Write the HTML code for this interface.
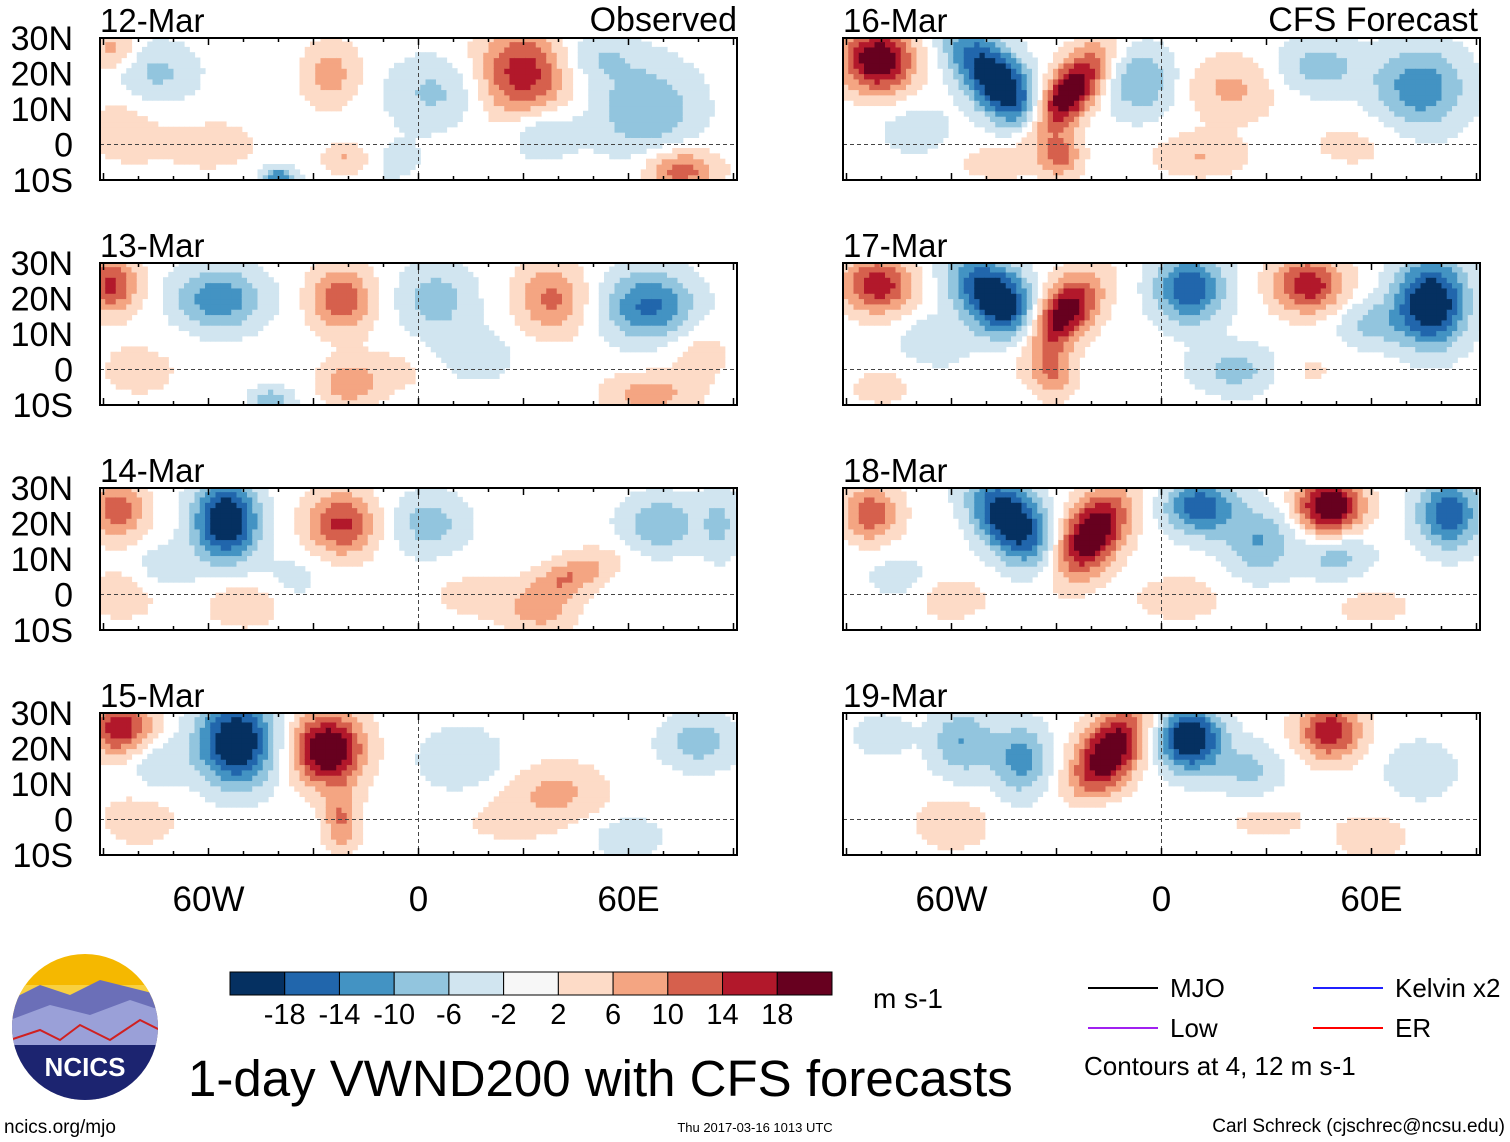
<!DOCTYPE html>
<html><head><meta charset="utf-8">
<style>
body{margin:0;background:#fff;width:1510px;height:1142px;overflow:hidden;font-family:"Liberation Sans",sans-serif;}
svg{position:absolute;left:0;top:0}
</style></head>
<body>
<svg id="chart" width="1510" height="1142"></svg>
<script>
// ---- data ----
const panelTitles = ["12-Mar","13-Mar","14-Mar","15-Mar","16-Mar","17-Mar","18-Mar","19-Mar"];
const latTicks = ["30N","20N","10N","0","10S"];
const lonTickLabels = ["60W","0","60E"];
const lonTickValues = [-60,0,60];
const levelBounds = [-18,-14,-10,-6,-2,2,6,10,14,18];
const levelColors = ["#053061","#2166ac","#4393c3","#92c5de","#d1e5f0","#f7f7f7","#fddbc7","#f4a582","#d6604d","#b2182b","#67001f"];
// anomaly blobs per panel: [lon, lat, value, radiusLon, radiusLat, tilt(lon per lat)]
const blobs12 = [[30,20,17,13,13,0],[-25,20,8,8,9,0],[5,15,-7,14,10,0],[65,10,-10,15,13,0],[75,-7,13,10,6,0],[-40,-10,-15,5,4,0],[-20,-4,8,7,5,0],[-75,20,-7,12,9,0],[-87,27,8,6,6,0],[35,4,-7,10,8,0],[50,25,-6,12,7,0],[-60,0,3,20,10,0],[-10,-5,-3,15,8,0],[-85,5,4,10,10,0]];
const blobs13 = [[-88,24,15,8,8,0],[-57,20,-13,13,9,0],[-22,20,13,9,9,0],[-20,-4,9,8,6,0],[5,20,-8,11,10,0],[38,20,11,10,10,0],[66,18,-15,13,10,0],[66,-7,8,13,6,0],[-42,-9,-10,6,4,0],[15,4,-5,13,8,0],[-80,0,3,15,10,0],[80,5,4,10,8,0],[-5,0,3,15,8,0]];
const blobs14 = [[-86,24,13,8,8,0],[-55,21,-24,9,11,0],[-22,20,15,10,9,0],[-50,-3,6,10,6,0],[3,20,-8,11,9,0],[69,20,-10,11,8,0],[43,5,10,10,7,1],[35,-5,7,10,6,0],[-72,8,-6,8,6,0],[86,20,-7,5,10,0],[-85,0,4,12,8,0],[15,0,3,14,8,0],[-35,5,-3,10,8,0]];
const blobs15 = [[-85,26,17,9,8,0],[-52,22,-24,11,12,0],[-26,20,24,10,10,0],[-22,0,10,5,9,0],[12,17,-6,12,9,0],[80,22,-8,11,8,0],[40,8,7,13,8,0],[-75,16,-6,8,7,0],[60,-5,-5,10,6,0],[-80,0,4,12,8,0],[25,0,3,15,8,0]];
const blobs16 = [[-81,24,23,10,9,0],[-47,18,-24,10,14,-0.6],[-27,14,24,8,13,0.6],[-29,-3,13,6,6,0],[-6,18,-10,10,10,0],[20,16,7,13,9,0],[45,22,-8,13,8,0],[74,16,-13,13,12,0],[11,-3,6,13,6,0],[-70,4,-5,10,7,0],[55,0,3,15,8,0],[-50,-5,3,12,6,0]];
const blobs17 = [[-81,24,17,10,8,0],[-47,20,-24,11,12,-0.5],[-29,15,24,9,11,0.5],[-31,-1,10,6,7,0],[8,23,-17,10,10,0],[42,24,17,10,8,0],[77,19,-24,10,12,0],[22,0,-8,13,7,0],[-65,8,-6,10,7,0],[60,13,-7,10,7,0],[-80,-5,3,12,7,0],[40,0,3,12,7,0]];
const blobs18 = [[-83,23,13,8,8,0],[-43,21,-24,10,12,-0.4],[-20,17,24,9,12,0.4],[11,25,-17,10,8,0],[28,15,-10,10,10,0],[48,25,24,9,8,0],[82,23,-17,9,10,0],[50,11,-8,10,7,0],[-60,-1,5,10,6,0],[5,-1,5,12,6,0],[-75,5,-4,10,7,0],[60,-3,3,15,7,0]];
const blobs19 = [[-57,22,-10,9,10,0],[-15,19,24,9,12,0.4],[8,23,-24,9,9,0],[48,25,17,9,8,0],[74,14,-6,10,8,0],[-60,-1,6,10,7,0],[-40,17,-12,8,10,0],[-80,24,-5,8,6,0],[25,14,-7,10,8,0],[60,-5,5,10,6,0],[30,0,3,15,7,0],[-20,0,-3,10,7,0]];
const panelBlobs = [blobs12,blobs13,blobs14,blobs15,blobs16,blobs17,blobs18,blobs19];

const NS="http://www.w3.org/2000/svg";
const svg=document.getElementById('chart');
function mk(tag,attrs,parent){const e=document.createElementNS(NS,tag);for(const k in attrs)e.setAttribute(k,attrs[k]);(parent||svg).appendChild(e);return e;}
function colorFor(v){let i=0;while(i<levelBounds.length&&v>=levelBounds[i])i++;return levelColors[i];}

const panelW=637, panelH=142, lonMin=-91, lonMax=91, latMin=-10, latMax=30;
const colX=[100,843], rowY=[38,263,488,713];

panelBlobs.forEach((bl,p)=>{
  const x0=colX[p<4?0:1], y0=rowY[p%4];
  const xs=lon=>x0+(lon-lonMin)/(lonMax-lonMin)*panelW;
  const ys=lat=>y0+(latMax-lat)/(latMax-latMin)*panelH;
  const g=mk('g',{});
  
  
  const step=1.5;
  for(let lon=lonMin;lon<lonMax;lon+=step){
    for(let lat=latMin;lat<latMax;lat+=step){
      const cl=lon+step/2, ca=lat+step/2;
      let v=0;
      bl.forEach(b=>{const dx=(cl-b[0]-(ca-b[1])*b[5])/b[3],dy=(ca-b[1])/b[4];v+=b[2]*Math.exp(-(dx*dx+dy*dy));});
      const c=colorFor(v);
      if(c==="#f7f7f7")continue;
      const top=Math.min(latMax,lat+step);
      const r=mk('rect',{x:xs(lon),y:ys(top),width:xs(Math.min(lon+step,lonMax))-xs(lon)+0.6,height:ys(lat)-ys(top)+0.6,fill:c},g);
      
      
    }
  }
  mk('line',{x1:x0,x2:x0+panelW,y1:ys(0),y2:ys(0),stroke:'#444','stroke-dasharray':'4 3','stroke-width':1},g);
  mk('line',{x1:xs(0),x2:xs(0),y1:y0,y2:y0+panelH,stroke:'#444','stroke-dasharray':'4 3','stroke-width':1},g);
  const fr=mk('rect',{x:x0,y:y0,width:panelW,height:panelH,fill:'none',stroke:'#000','stroke-width':2},g);
  
  
  for(let lon=-90;lon<=90;lon+=10){const L=lon%30===0?7:4;mk('line',{x1:xs(lon),x2:xs(lon),y1:y0+panelH,y2:y0+panelH-L,stroke:'#000','stroke-width':1.5},g);mk('line',{x1:xs(lon),x2:xs(lon),y1:y0,y2:y0+L,stroke:'#000','stroke-width':1.5},g);}
  const t=mk('text',{x:x0,y:y0-6,'font-size':33,fill:'#000'},g);t.textContent=panelTitles[p];
  
  
  if(p<4){latTicks.forEach((lb,i)=>{const tt=mk('text',{x:73,y:y0+i*35.5+12,'font-size':34,'text-anchor':'end'},g);tt.textContent=lb;
    
    });}
  if(p%4===3){lonTickValues.forEach((lv,i)=>{const tt=mk('text',{x:xs(lv),y:911,'font-size':35,'text-anchor':'middle'},g);tt.textContent=lonTickLabels[i];
    
    });}
});
function txt(x,y,s,size,name,anchor){const t=mk('text',{x:x,y:y,'font-size':size,'text-anchor':anchor||'start'});t.textContent=s;
  
  return t;}
txt(737,31,"Observed",34,"observed-label","end");
txt(1478,31,"CFS Forecast",34,"cfs-forecast-label","end");
const cb=mk('g',{});


const cbx=230,cbw=602/11;
levelColors.forEach((c,i)=>mk('rect',{x:cbx+i*cbw,y:972,width:cbw,height:23,fill:c,stroke:'#000','stroke-width':1},cb));
levelBounds.forEach((b,i)=>{const t=mk('text',{x:cbx+(i+1)*cbw,y:1024,'font-size':29,'text-anchor':'middle'},cb);t.textContent=b;});
txt(873,1008,"m s-1",28,"colorbar-units");
const lg=[["#000","MJO",1088,988],["#2020ff","Kelvin x2",1313,988],["#a020f0","Low",1088,1028],["#ff0000","ER",1313,1028]];
lg.forEach(l=>{const g=mk('g',{});
  mk('line',{x1:l[2],x2:l[2]+70,y1:l[3],y2:l[3],stroke:l[0],'stroke-width':2},g);
  const t=mk('text',{x:l[2]+82,y:l[3]+9,'font-size':26},g);t.textContent=l[1];});
txt(1084,1075,"Contours at 4, 12 m s-1",26,"contour-note");
txt(188,1096,"1-day VWND200 with CFS forecasts",51,"main-title");
txt(4,1133,"ncics.org/mjo",19,"ncics-url");
txt(755,1132,"Thu 2017-03-16 1013 UTC",13,"timestamp","middle");
txt(1505,1132,"Carl Schreck (cjschrec@ncsu.edu)",19,"author-credit","end");
const lo=mk('g',{});


mk('defs',{},lo).innerHTML='<clipPath id="lc"><circle cx="85" cy="1027" r="73"/></clipPath>';
mk('circle',{cx:85,cy:1027,r:73,fill:'#f5b800'},lo);
const lg2=mk('g',{'clip-path':'url(#lc)'},lo);
mk('rect',{x:10,y:985,width:150,height:20,fill:'#f8d040'},lg2);
mk('path',{d:'M10 1000 L40 985 L70 995 L100 980 L160 995 L160 1110 L10 1110Z',fill:'#6b6fb8'},lg2);
mk('path',{d:'M10 1020 L50 1005 L90 1015 L130 1000 L160 1010 L160 1110 L10 1110Z',fill:'#9aa0d8'},lg2);
mk('path',{d:'M10 1040 L40 1030 L60 1040 L80 1025 L110 1040 L140 1020 L160 1030',stroke:'#d02020','stroke-width':2,fill:'none'},lg2);
mk('rect',{x:10,y:1045,width:150,height:70,fill:'#1c2470'},lg2);
const lt=mk('text',{x:85,y:1076,'font-size':26,'font-weight':'bold',fill:'#fff','text-anchor':'middle'},lo);lt.textContent="NCICS";
</script>
</body></html>
